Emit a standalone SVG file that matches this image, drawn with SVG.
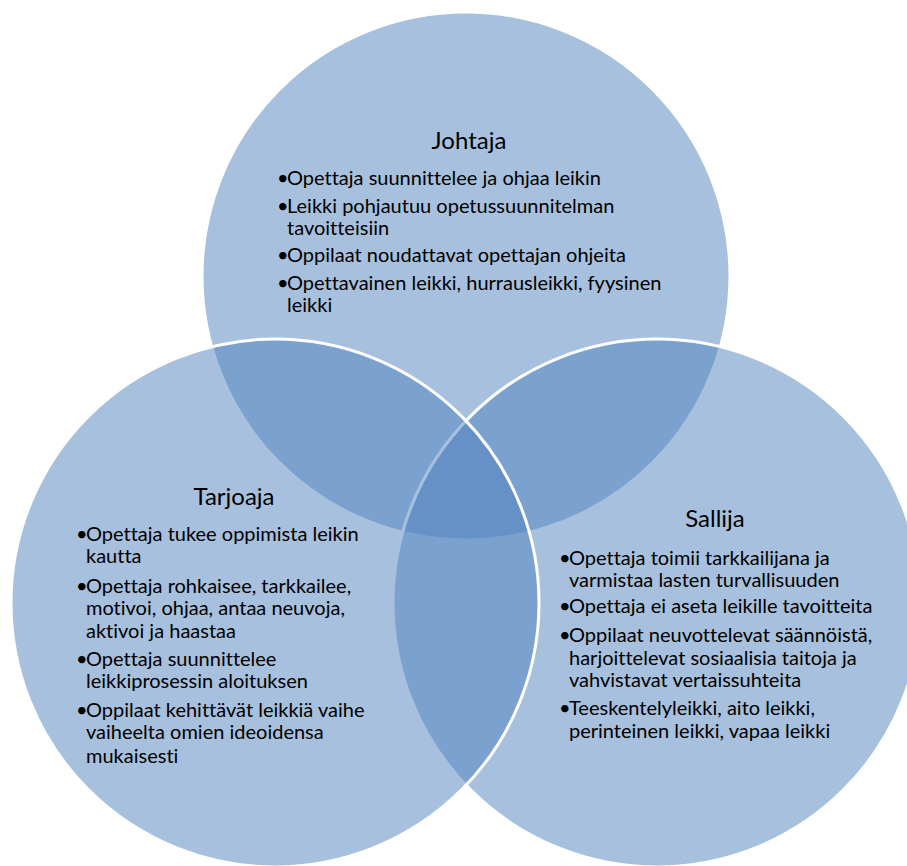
<svg xmlns="http://www.w3.org/2000/svg" width="907" height="866" viewBox="0 0 907 866">
<style>
.c{fill:rgba(79,129,189,0.5);stroke:#fff;stroke-width:3}
.t{font-family:Lato,"Liberation Sans",sans-serif;font-size:24px;fill:#000;text-anchor:middle;font-variant-ligatures:none}
.b{font-family:Lato,"Liberation Sans",sans-serif;font-size:20px;fill:#000;font-variant-ligatures:none}
</style>
<rect width="907" height="866" fill="#fff"/>
<g id="johtaja">
<circle class="c" cx="466" cy="276" r="264"/>
<text class="t" x="469" y="149">Johtaja</text>
<text class="b"><tspan x="277" y="185">•</tspan><tspan x="287" y="185">Opettaja suunnittelee ja ohjaa leikin</tspan><tspan x="277" y="213">•</tspan><tspan x="287" y="213">Leikki pohjautuu opetussuunnitelman</tspan><tspan x="287" y="235">tavoitteisiin</tspan><tspan x="277" y="262">•</tspan><tspan x="287" y="262">Oppilaat noudattavat opettajan ohjeita</tspan><tspan x="277" y="290">•</tspan><tspan x="287" y="290">Opettavainen leikki, hurrausleikki, fyysinen</tspan><tspan x="287" y="312">leikki</tspan></text>
</g>
<g id="sallija">
<circle class="c" cx="657" cy="603" r="264"/>
<text class="t" x="715" y="527">Sallija</text>
<text class="b"><tspan x="559" y="565">•</tspan><tspan x="569" y="565">Opettaja toimii tarkkailijana ja</tspan><tspan x="569" y="587">varmistaa lasten turvallisuuden</tspan><tspan x="559" y="613">•</tspan><tspan x="569" y="613">Opettaja ei aseta leikille tavoitteita</tspan><tspan x="559" y="642">•</tspan><tspan x="569" y="642">Oppilaat neuvottelevat säännöistä,</tspan><tspan x="569" y="665">harjoittelevat sosiaalisia taitoja ja</tspan><tspan x="569" y="687">vahvistavat vertaissuhteita</tspan><tspan x="559" y="715">•</tspan><tspan x="569" y="715">Teeskentelyleikki, aito leikki,</tspan><tspan x="569" y="738">perinteinen leikki, vapaa leikki</tspan></text>
</g>
<g id="tarjoaja">
<circle class="c" cx="275" cy="603" r="264"/>
<text class="t" x="234" y="505">Tarjoaja</text>
<text class="b"><tspan x="76" y="541">•</tspan><tspan x="86" y="541">Opettaja tukee oppimista leikin</tspan><tspan x="86" y="563">kautta</tspan><tspan x="76" y="593">•</tspan><tspan x="86" y="593">Opettaja rohkaisee, tarkkailee,</tspan><tspan x="86" y="615">motivoi, ohjaa, antaa neuvoja,</tspan><tspan x="86" y="638">aktivoi ja haastaa</tspan><tspan x="76" y="666">•</tspan><tspan x="86" y="666">Opettaja suunnittelee</tspan><tspan x="86" y="688">leikkiprosessin aloituksen</tspan><tspan x="76" y="717">•</tspan><tspan x="86" y="717">Oppilaat kehittävät leikkiä vaihe</tspan><tspan x="86" y="739">vaiheelta omien ideoidensa</tspan><tspan x="86" y="763">mukaisesti</tspan></text>
</g>
</svg>
